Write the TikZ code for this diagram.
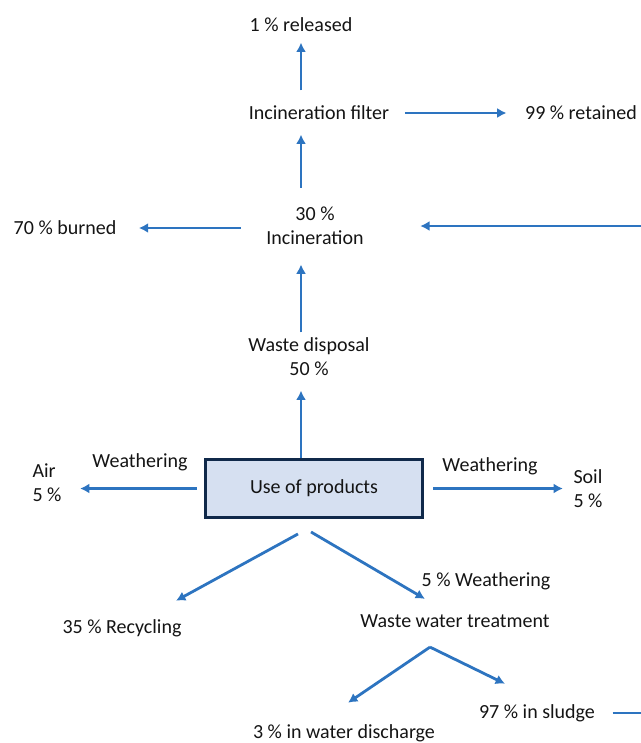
\documentclass[tikz,border=0pt]{standalone}
\usepackage{fontspec}
\setmainfont{Carlito}
\usetikzlibrary{calc, arrows.meta}
\definecolor{flow_blue}{HTML}{2D74C0}
\definecolor{use_fill}{HTML}{D6E0F1}
\definecolor{use_border}{HTML}{10294A}
\definecolor{label_text}{HTML}{141414}

\begin{document}
\begin{tikzpicture}[
    x=0.75pt, y=-0.75pt,
    >={Latex[length=7pt,width=7.5pt]},
    font=\fontsize{15}{18}\selectfont,
    label/.style={inner sep=1pt, align=center, text=label_text},
    flow/.style={->, draw=flow_blue, line width=2.1pt},
    product/.style={
        draw=use_border,
        line width=2.2pt,
        fill=use_fill,
        text=label_text,
        minimum width=162.75pt,
        minimum height=43.5pt
    }
]
\useasboundingbox (0,0) rectangle (640,743);

% incineration chain
\node[label] (released) at (301,25) {1 \% released};
\node[label] (filter) at (319,113) {Incineration filter};
\node[label] (retained) at (581,113) {99 \% retained};
\node[label] (incin) at (315,226) {30 \%\\Incineration};
\node[label] (burned) at (65,228) {70 \% burned};
\node[label] (disposal) at (309,357) {Waste disposal\\50 \%};

% product use and weathering
\node[product] (use) at (314,488.5) {Use of products};
\node[label, align=left] (air) at (47,483) {Air\\5 \%};
\node[label] (wleft) at (140,462) {Weathering};
\node[label, align=left] (soil) at (588,489) {Soil\\5 \%};
\node[label] (wright) at (490,466) {Weathering};

% recycling and waste water
\node[label] (recycling) at (122,628) {35 \% Recycling};
\node[label] (wwtweather) at (486,581) {5 \% Weathering};
\node[label] (wwt) at (455,621) {Waste water treatment};
\node[label] (sludge) at (537,713) {97 \% in sludge};
\node[label] (discharge) at (344,733) {3 \% in water discharge};
\coordinate (loop) at (646,0);

\draw[flow, shorten <=10.5pt, shorten >=6.75pt] (filter.north -| released) -- (released.south);
\draw[flow, shorten <=10.5pt, shorten >=12.75pt] (filter.east) -- (retained.west);
\draw[flow, shorten <=13.5pt, shorten >=9.75pt] (incin.north -| released) -- (filter.south -| released);
\draw[flow, shorten <=18pt, shorten >=15.75pt] (incin.west |- burned) -- (burned.east);
\draw[flow, shorten <=3pt, shorten >=13.5pt] (disposal.north -| released) -- (incin.south -| released);
\draw[flow, shorten >=9.75pt] (use.north -| released) -- (disposal.south -| released);
\draw[flow, shorten <=5.6pt, shorten >=12.75pt] (use.west) -- (air.east |- use.west);
\draw[flow, shorten <=7pt, shorten >=6.75pt] (use.east) -- (soil.west |- use.east);
\draw[flow] ($(use.south)+(-16,15)$) -- ($(recycling.north)+(54,-17)$);
\draw[flow] ($(use.south)+(-3,13)$) -- ($(wwt.north)+(-30,-14)$);
\draw[flow] ($(wwt.south)+(-25,18)$) -- ($(discharge.north)+(4,-20)$);
\draw[flow] ($(wwt.south)+(-25,18)$) -- ($(sludge.north)+(-32,-19)$);
% sludge goes back to incineration
\draw[flow, shorten <=12pt, shorten >=41.25pt] (sludge.east) -- (sludge.east -| loop) |- (incin.east);

\end{tikzpicture}
\end{document}
